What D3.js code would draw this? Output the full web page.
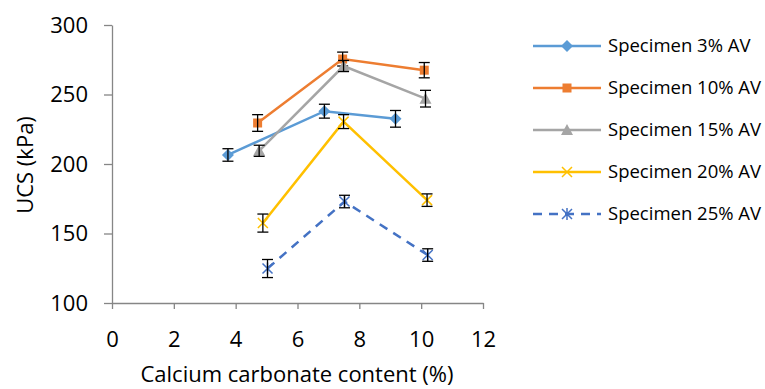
<!DOCTYPE html>
<meta charset="utf-8">
<style>
    body { margin: 0; background: #fff; }
    text { font-family: "Open Sans", sans-serif; fill: #000; }
    .axis path, .axis line { stroke: #868686; stroke-width: 1.3px; }
    .axis text { font-size: 22px; }
    .line { fill: none; stroke-width: 2.5px; }
    .err { stroke: #000; stroke-width: 1.3px; }
</style>
<svg id="f" width="765" height="389"></svg>
<script src="https://cdn.jsdelivr.net/npm/d3@7"></script>
<script>
    // data
    var names = ["Specimen 3% AV", "Specimen 10% AV", "Specimen 15% AV", "Specimen 20% AV", "Specimen 25% AV"];
    var colors = ["#5B9BD5", "#ED7D31", "#A5A5A5", "#FFC000", "#4472C4"];
    var symbols = ["diamond", "square", "triangle", "x", "star"];
    var xVals = [
        [3.75, 6.87, 9.17],
        [4.71, 7.46, 10.1],
        [4.76, 7.49, 10.14],
        [4.88, 7.49, 10.19],
        [5.03, 7.52, 10.21]
    ];
    var yVals = [
        [206.5, 238, 232.5],
        [229.5, 275.5, 267.5],
        [209.5, 270.5, 247],
        [157.5, 230.5, 174],
        [124.8, 173, 134.5]
    ];
    var yErr = [
        [4.5, 5, 6],
        [6, 5, 5.5],
        [4, 4, 6],
        [6.5, 5, 4.5],
        [6.5, 4.5, 4.5]
    ];
    var xTicks = [0, 2, 4, 6, 8, 10, 12];
    var yTicks = [100, 150, 200, 250, 300];

    var svg = d3.select("#f");
    var x = d3.scaleLinear().domain([0, 12]).range([112, 483]),
        y = d3.scaleLinear().domain([100, 300]).range([303, 25]);

    svg.append("g")
        .attr("class", "axis")
        .attr("transform", "translate(0,303)")
        .call(d3.axisBottom(x).tickValues(xTicks).tickSize(6).tickSizeOuter(0).tickPadding(22));

    svg.append("g")
        .attr("class", "axis")
        .attr("transform", "translate(112,0)")
        .call(d3.axisLeft(y).tickValues(yTicks).tickSize(8).tickSizeOuter(0).tickPadding(16));

    svg.append("text")
        .attr("x", 297).attr("y", 382)
        .attr("text-anchor", "middle")
        .style("font-size", "22px")
        .text("Calcium carbonate content (%)");

    svg.append("text")
        .attr("transform", "translate(33,165) rotate(-90)")
        .attr("text-anchor", "middle")
        .style("font-size", "22px")
        .text("UCS (kPa)");

    var series = names.map(function (n, i) {
        return {
            name: n, color: colors[i], symbol: symbols[i], dashed: i === 4,
            values: xVals[i].map(function (v, j) { return { x: v, y: yVals[i][j], e: yErr[i][j] }; })
        };
    });

    var line = d3.line().x(function (d) { return x(d.x); }).y(function (d) { return y(d.y); });

    function marker(g, sym, color) {
        if (sym === "diamond") {
            g.append("path").attr("d", "M0,-6L6,0L0,6L-6,0Z").attr("fill", color);
        } else if (sym === "square") {
            g.append("rect").attr("x", -4.5).attr("y", -4.5).attr("width", 9).attr("height", 9).attr("fill", color);
        } else if (sym === "triangle") {
            g.append("path").attr("d", "M0,-6L6,5L-6,5Z").attr("fill", color);
        } else if (sym === "x") {
            g.append("path").attr("d", "M-5,-5L5,5M-5,5L5,-5").attr("stroke", color).attr("stroke-width", 1.5);
        } else {
            g.append("path").attr("d", "M-5,-5L5,5M-5,5L5,-5M0,-6L0,6").attr("stroke", color).attr("stroke-width", 1.5);
        }
    }

    series.forEach(function (s) {
        svg.append("path")
            .attr("class", "line")
            .attr("d", line(s.values))
            .style("stroke", s.color)
            .style("stroke-dasharray", s.dashed ? "9,7" : null);

        s.values.forEach(function (d) {
            var g = svg.append("g").attr("transform", "translate(" + x(d.x) + "," + y(d.y) + ")");
            marker(g, s.symbol, s.color);
        });

        s.values.forEach(function (d) {
            var cx = x(d.x), t = y(d.y + d.e), b = y(d.y - d.e);
            svg.append("line").attr("class", "err").attr("x1", cx).attr("x2", cx).attr("y1", t).attr("y2", b);
            svg.append("line").attr("class", "err").attr("x1", cx - 5.5).attr("x2", cx + 5.5).attr("y1", t).attr("y2", t);
            svg.append("line").attr("class", "err").attr("x1", cx - 5.5).attr("x2", cx + 5.5).attr("y1", b).attr("y2", b);
        });
    });

    // legend
    var legend = svg.selectAll(".legend")
        .data(series)
        .enter().append("g")
        .attr("class", "legend")
        .attr("transform", function (d, i) { return "translate(533," + (46 + i * 42) + ")"; });

    legend.append("line")
        .attr("x1", 0).attr("x2", 68)
        .attr("stroke", function (d) { return d.color; })
        .attr("stroke-width", 2.5)
        .style("stroke-dasharray", function (d) { return d.dashed ? "9,7" : null; });

    legend.each(function (d) {
        var g = d3.select(this).append("g").attr("transform", "translate(34,0)");
        marker(g, d.symbol, d.color);
    });

    legend.append("text")
        .attr("x", 75).attr("dy", "0.35em")
        .style("font-size", "18.5px")
        .text(function (d) { return d.name; });
</script>
